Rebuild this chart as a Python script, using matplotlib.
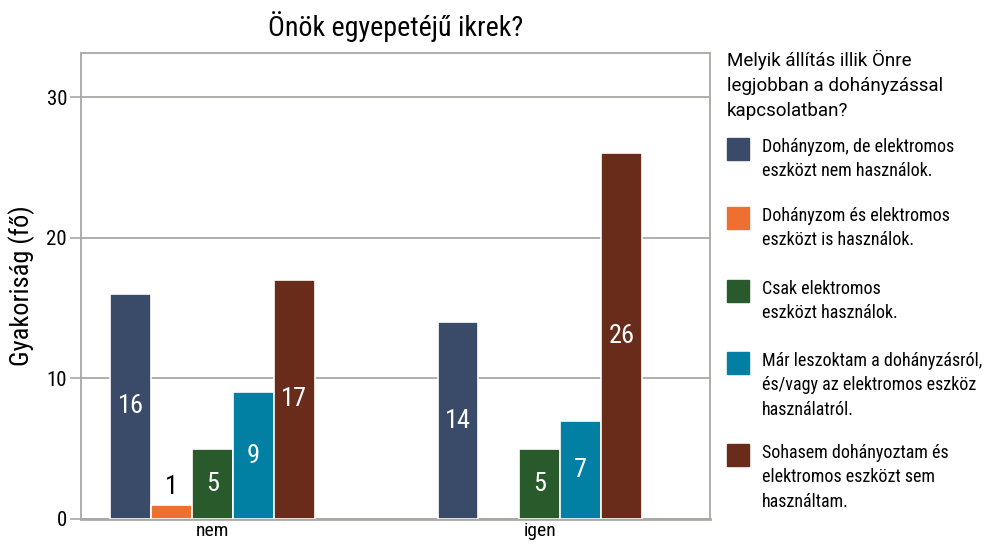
import matplotlib.pyplot as plt
from matplotlib.patches import Rectangle

plt.rcParams['font.family'] = ['Roboto Condensed', 'Roboto', 'DejaVu Sans']

categories = ['nem', 'igen']
series_names = [
    'Dohányzom, de elektromos\neszközt nem használok.',
    'Dohányzom és elektromos\neszközt is használok.',
    'Csak elektromos\neszközt használok.',
    'Már leszoktam a dohányzásról,\nés/vagy az elektromos eszköz\nhasználatról.',
    'Sohasem dohányoztam és\nelektromos eszközt sem\nhasználtam.',
]
values = [
    [16, 14],
    [1, 0],
    [5, 5],
    [9, 7],
    [17, 26],
]
colors = ['#3a4a69', '#ed7030', '#295a2b', '#0280a3', '#6a2c1a']
legend_title = 'Melyik állítás illik Önre\nlegjobban a dohányzással\nkapcsolatban?'

fig = plt.figure(figsize=(9.83, 5.44), dpi=100)
ax = fig.add_axes([0.0824, 0.046, 0.64, 0.857])

step = 0.1248
x = range(len(categories))
for i, (vals, col) in enumerate(zip(values, colors)):
    off = (i - 2) * step
    for xi, v in zip(x, vals):
        if v == 0:
            continue
        ax.bar(xi + off, v, width=step, color=col, edgecolor='white', linewidth=1.2, zorder=3)
        # small bars get a black label above, others white in the middle
        if v < 3:
            ax.text(xi + off, v + 0.4, str(v), ha='center', va='bottom', fontsize=19, color='black', zorder=4)
        else:
            ax.text(xi + off, v / 2, str(v), ha='center', va='center', fontsize=19, color='white', zorder=4)

ax.set_xlim(-0.402, 1.521)
ax.set_ylim(0, 33.15)
ax.set_yticks([0, 10, 20, 30])
ax.set_xticks(list(x))
ax.set_xticklabels(categories, fontsize=14)
ax.tick_params(axis='y', labelsize=15, length=8, width=1.2, color='#a8a8a4', pad=2)
ax.tick_params(axis='x', length=0, pad=2)
ax.yaxis.grid(True, color='#a8a8a4', linewidth=1.3, zorder=0)
for s in ax.spines.values():
    s.set_color('#a8a8a4')
    s.set_linewidth(1.3)
ax.spines['bottom'].set_linewidth(2)
ax.set_ylabel('Gyakoriság (fő)', fontsize=19, labelpad=8)
ax.set_title('Önök egyepetéjű ikrek?', fontsize=20.2, pad=12)

# legend, drawn by hand so the squares line up with the first text line
fig.text(727 / 983, 1 - 50 / 544, legend_title, fontsize=13.5, va='top', ha='left', linespacing=1.48,
         family=['Roboto', 'DejaVu Sans'])
tops = [138, 207, 280, 352, 444]
for t, name, col in zip(tops, series_names, colors):
    fig.patches.append(Rectangle((727 / 983, 1 - (t + 22) / 544), 22 / 983, 22 / 544,
                                 transform=fig.transFigure, color=col))
    fig.text(762 / 983, 1 - t / 544, name, fontsize=13, va='top', ha='left', linespacing=1.45)

plt.savefig('out.png', dpi=100)
